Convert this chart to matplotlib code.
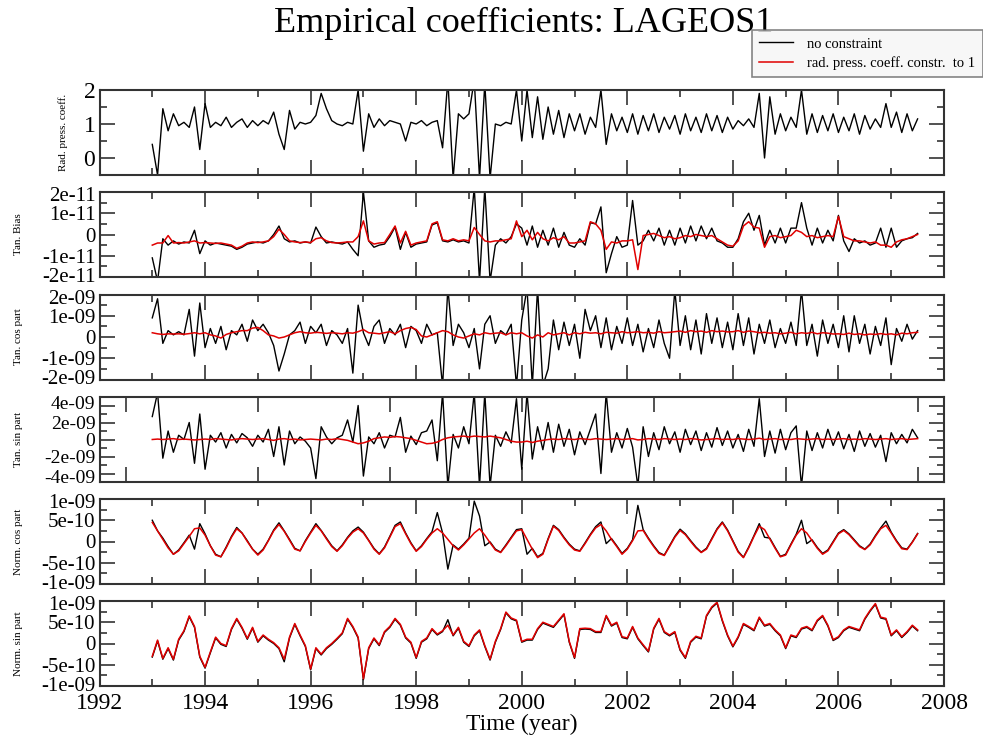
import numpy as np
import matplotlib
matplotlib.use("Agg")
import matplotlib.pyplot as plt
from matplotlib.ticker import MultipleLocator
from matplotlib.transforms import ScaledTranslation

plt.rcParams['font.family'] = ['Liberation Serif', 'DejaVu Serif']

# weekly-ish samples, one every 0.1 year from 1993.0
t_start = 1993.0
t_step = 0.1

# Rad. press. coeff. (no constraint only)
rad_black = [
    0.4, -0.5, 1.45, 0.8, 1.3, 0.95, 1.05, 0.9, 1.5, 0.25,
    1.6, 0.9, 1.05, 0.95, 1.2, 0.9, 1.05, 1.15, 0.9, 1.1,
    0.95, 1.1, 1.0, 1.35, 0.7, 0.25, 1.4, 0.85, 1.05, 1.0,
    1.05, 1.25, 1.9, 1.45, 1.1, 1.0, 0.95, 1.05, 1.0, 2.0,
    0.2, 1.3, 0.9, 1.15, 0.95, 1.1, 1.05, 1.0, 0.5, 1.05,
    1.0, 1.1, 0.95, 1.05, 1.1, 0.3, 2.3, -0.6, 1.3, 1.15,
    1.3, 2.3, -0.6, 2.2, -0.6, 1.0, 0.95, 1.05, 1.0, 2.0,
    0.5, 2.0, 0.6, 1.8, 0.55, 1.5, 0.7, 1.4, 0.6, 1.3,
    0.8, 1.3, 0.7, 1.2, 0.9, 2.0, 0.4, 1.3, 0.8, 1.2,
    0.75, 1.3, 0.7, 1.25, 0.8, 1.3, 0.75, 1.2, 0.85, 1.25,
    0.7, 1.3, 0.8, 1.2, 0.75, 1.3, 0.8, 1.25, 0.75, 1.2,
    0.85, 1.1, 0.95, 1.15, 0.9, 1.9, 0.0, 1.8, 0.7, 1.3,
    0.8, 1.2, 0.9, 2.0, 0.7, 1.3, 0.75, 1.25, 0.8, 1.3,
    0.75, 1.2, 0.8, 1.3, 0.7, 1.25, 0.85, 1.15, 0.9, 1.6,
    0.9, 1.35, 0.75, 1.3, 0.8, 1.15,
]

# Tan. Bias, units of 1e-11
bias_black = [
    -1.1, -2.2, -0.2, -0.5, -0.3, -0.45, -0.35, -0.4, 0.2, -0.9,
    -0.3, -0.5, -0.4, -0.45, -0.5, -0.55, -0.7, -0.6, -0.45, -0.4,
    -0.35, -0.4, -0.3, 0.0, 0.4, -0.2, -0.35, -0.3, -0.4, -0.35,
    -0.4, 0.35, -0.1, -0.4, -0.35, -0.4, -0.45, -0.35, -0.7, -1.0,
    2.0, -0.3, -0.6, -0.5, -0.45, -0.1, 0.35, -0.7, 0.1, -0.6,
    -0.45, -0.4, -0.35, 0.45, 0.55, -0.3, -0.35, -0.25, -0.35, -0.3,
    -0.4, 2.2, -2.2, 2.2, -2.2, -0.5, -0.2, -0.4, -0.1, 0.5,
    0.3, -0.5, 0.4, -0.6, 0.2, -0.5, 0.3, -0.6, 0.1, -0.5,
    -0.6, -0.2, -0.5, 0.55, 0.5, 1.3, -1.8, -0.9, -0.1, -0.6,
    -0.5, 1.6, -0.5, -0.3, 0.2, -0.3, 0.3, -0.5, 0.2, -0.5,
    0.3, -0.4, 0.4, -0.3, 0.4, -0.2, 0.3, -0.3, -0.4, -0.6,
    -0.6, -0.2, 0.6, 1.0, 0.2, 0.9, -0.5, 0.2, -0.4, 0.3,
    -0.4, 0.3, 0.3, 1.5, 0.3, -0.5, 0.3, -0.4, 0.2, -0.3,
    0.9, -0.3, -0.8, -0.2, -0.4, -0.3, -0.5, -0.4, 0.3, -0.6,
    0.3, -0.6, -0.3, -0.2, -0.15, 0.05,
]
bias_red = [
    -0.5, -0.4, -0.4, -0.05, -0.4, -0.38, -0.4, -0.35, -0.3, -0.4,
    -0.38, -0.4, -0.42, -0.4, -0.45, -0.5, -0.65, -0.55, -0.4, -0.35,
    -0.38, -0.35, -0.3, -0.1, 0.25, 0.0, -0.3, -0.35, -0.38, -0.35,
    -0.38, -0.2, -0.15, -0.3, -0.38, -0.4, -0.38, -0.35, -0.35, -0.1,
    0.64, -0.3, -0.45, -0.4, -0.38, 0.0, 0.4, -0.4, 0.15, -0.5,
    -0.4, -0.35, -0.3, 0.5, 0.6, -0.25, -0.3, -0.2, -0.3, -0.25,
    -0.3, 0.33, 0.0, -0.3, -0.35, -0.3, -0.3, -0.25, -0.2, 0.64,
    -0.1, 0.2, -0.25, 0.1, -0.2, -0.3, -0.15, -0.25, -0.1, -0.4,
    -0.4, -0.35, -0.3, 0.6, 0.5, 0.2, -0.7, -0.35, -0.4, -0.3,
    -0.3, -0.25, -1.65, -0.05, 0.0, 0.05, -0.05, -0.15, -0.1, -0.2,
    -0.15, -0.05, -0.1, 0.0, -0.05, -0.1, -0.05, -0.2, -0.35, -0.5,
    -0.55, -0.3, 0.4, 0.6, 0.35, 0.3, -0.6, -0.1, -0.05, -0.15,
    -0.1, -0.05, 0.2, 0.1, -0.1, -0.05, -0.15, -0.1, -0.05, -0.1,
    0.85, -0.1, -0.2, -0.3, -0.3, -0.35, -0.4, -0.35, -0.5, -0.5,
    -0.6, -0.35, -0.25, -0.2, -0.1, 0.0,
]

# Tan. cos part, units of 1e-9
tcos_black = [
    0.9, 1.8, -0.3, 0.3, 0.1, 0.25, 0.1, 1.3, -0.9, 1.6,
    -0.5, 0.4, -0.3, 0.5, -0.6, 0.3, 0.1, 0.6, -0.2, 0.8,
    0.3, 0.6, 0.2, -0.4, -1.6, -0.8, 0.1, 0.3, 0.7, -0.3,
    0.5, 0.2, 0.6, -0.4, 0.3, 0.1, -0.3, 0.4, -1.7, 1.5,
    0.2, -0.4, 0.5, 0.8, -0.3, 0.4, 0.1, 0.6, -0.5, 0.5,
    0.3, -0.3, 0.6, 0.1, 0.2, -2.3, 2.3, -0.4, 0.6, 0.2,
    -0.5, 0.4, -1.5, 0.6, 1.0, -0.3, 0.3, 0.1, 0.6, -2.3,
    0.8, 2.3, -2.3, 2.3, -2.3, -1.5, 0.8, -0.6, 0.7, -0.4,
    0.6, -1.0, 1.3, 0.3, 1.0, -0.5, 0.9, -0.6, 0.5, -0.3,
    0.9, -0.4, 0.6, -0.7, 0.4, -0.5, 0.8, -0.3, -1.0, 2.2,
    -0.4, 1.0, -0.6, 0.8, -0.8, 1.1, -0.3, 0.9, -0.5, 0.7,
    -0.6, 1.1, -0.4, 0.9, -0.8, 0.6, -0.3, 0.8, -0.5, 0.4,
    -0.3, 0.7, -0.4, 2.2, -0.4, 0.6, -0.9, 0.8, -0.3, 0.6,
    -0.5, 1.0, -0.7, 1.0, -0.3, 0.6, -0.8, 0.5, -0.4, 0.9,
    -1.3, 0.4, -0.2, 0.6, -0.1, 0.3,
]
tcos_red = [
    0.2, 0.15, 0.12, 0.15, 0.14, 0.15, 0.13, 0.16, 0.2, 0.15,
    0.2, 0.1, 0.05, -0.05, 0.12, 0.2, 0.25, 0.3, 0.3, 0.42,
    0.45, 0.3, 0.1, 0.05, -0.05, 0.0, 0.1, 0.2, 0.25, 0.2,
    0.18, 0.22, 0.2, 0.17, 0.2, 0.18, 0.15, 0.2, 0.18, 0.25,
    0.35, 0.2, 0.18, 0.15, 0.2, 0.25, 0.15, 0.3, 0.4, 0.45,
    0.35, 0.05, 0.0, 0.1, 0.2, 0.3, 0.25, 0.1, 0.0, -0.05,
    0.05, 0.15, 0.1, 0.2, 0.15, 0.18, 0.2, 0.1, 0.2, 0.15,
    0.2, 0.05, -0.05, 0.1, 0.0, 0.2, 0.1, 0.15, 0.2, 0.1,
    0.2, 0.15, 0.22, 0.18, 0.2, 0.15, 0.22, 0.2, 0.18, 0.25,
    0.2, 0.22, 0.25, 0.2, 0.22, 0.18, 0.25, 0.2, 0.22, 0.25,
    0.28, 0.22, 0.3, 0.25, 0.28, 0.22, 0.3, 0.25, 0.28, 0.24,
    0.25, 0.3, 0.22, 0.28, 0.25, 0.2, 0.22, 0.18, 0.2, 0.15,
    0.18, 0.22, 0.15, 0.2, 0.17, 0.22, 0.15, 0.2, 0.18, 0.14,
    0.15, 0.12, 0.18, 0.12, 0.15, 0.1, 0.14, 0.12, 0.16, 0.12,
    0.15, 0.1, 0.18, 0.15, 0.2, 0.22,
]

# Tan. sin part, units of 1e-9
tsin_black = [
    2.7, 5.5, -2.2, 1.0, -1.5, 0.5, 0.0, 2.0, -2.8, 3.0,
    -3.5, 0.5, -0.3, 0.8, -1.0, 0.6, -0.4, 0.7, 0.2, -0.8,
    0.5, -0.3, 1.2, -2.0, 1.5, -3.0, 1.0, -0.5, 0.3, -0.2,
    -1.0, -4.6, 1.5, 0.3, -0.5, 0.2, 0.5, 2.3, -0.3, 4.0,
    -4.3, 0.3, -0.5, 0.8, -1.0, 0.5, 0.3, 2.6, -1.5, 0.4,
    -0.6, 0.8, 1.0, 2.3, -2.5, 5.5, -5.5, 0.6, -1.0, 1.5,
    -0.5, 5.5, -5.5, 5.5, -5.5, 0.5, -0.8, 0.9, -0.4, 4.8,
    -3.5, 5.5, -2.3, 1.5, -1.2, 2.0, -1.5, 1.8, -0.8, 1.2,
    -1.8, 0.9, -0.6, 1.2, 3.0, -4.0, 5.5, -1.5, 0.8, -1.0,
    1.3, -0.9, -5.5, 1.5, -2.0, 0.8, -1.2, 1.5, -0.5, 0.9,
    -1.5, 1.2, -0.6, 1.0, -1.3, 0.8, -0.9, 1.4, -0.7, 1.0,
    -1.0, 0.6, -1.4, 1.2, -0.8, 4.8, -2.0, 1.0, -1.6, 1.2,
    -1.2, 0.8, 1.6, -5.5, 1.0, -1.3, 0.8, -1.0, 1.2, -0.7,
    0.9, -1.1, 0.6, -1.4, 1.0, -0.8, 0.7, -0.9, 0.5, -2.6,
    0.8, -0.5, 0.6, -0.4, 1.2, 0.2,
]
tsin_red = [
    0.0, 0.05, 0.0, 0.05, 0.1, 0.0, 0.05, 0.0, -0.05, 0.0,
    0.05, 0.0, 0.1, 0.05, 0.0, -0.05, 0.05, 0.1, 0.05, 0.0,
    0.05, 0.1, 0.0, -0.1, 0.05, 0.1, 0.0, 0.05, -0.05, 0.0,
    0.05, 0.0, -0.05, 0.05, 0.0, 0.1, 0.0, -0.1, -0.3, -0.5,
    -0.4, -0.2, 0.1, 0.2, 0.3, 0.25, 0.35, 0.3, 0.2, 0.1,
    -0.1, -0.3, -0.5, -0.45, -0.3, 0.0, 0.2, 0.3, 0.35, 0.4,
    0.3, 0.4, 0.35, 0.3, 0.4, 0.3, 0.2, 0.0, -0.2, -0.3,
    -0.3, -0.2, -0.35, -0.2, -0.1, 0.0, 0.05, 0.0, 0.1, 0.05,
    0.0, 0.1, 0.05, 0.0, 0.1, 0.05, 0.0, 0.05, 0.1, 0.0,
    0.05, 0.1, -0.05, 0.0, 0.1, 0.05, 0.0, 0.1, 0.05, 0.0,
    0.05, 0.0, 0.1, 0.05, -0.05, 0.0, 0.05, 0.1, 0.0, 0.05,
    0.0, 0.1, 0.05, 0.0, 0.05, 0.15, 0.0, 0.05, 0.1, 0.0,
    0.05, 0.0, 0.1, 0.05, 0.0, 0.05, 0.1, 0.0, 0.05, 0.0,
    0.05, 0.1, 0.0, 0.05, 0.0, 0.1, 0.05, 0.0, 0.05, 0.1,
    0.0, 0.05, 0.1, 0.0, 0.05, 0.1,
]

# Norm. cos part, units of 1e-10
ncos_black = [
    5.0, 2.5, 0.8, -1.2, -3.0, -2.0, -0.3, 1.5, -1.8, 4.2,
    1.8, -1.0, -3.0, -3.6, -1.3, 1.2, 3.3, 2.0, 0.2, -1.8,
    -3.0, -1.8, 0.3, 2.7, 4.4, 2.5, 0.5, -1.6, -2.2, 0.2,
    2.2, 4.2, 2.6, 0.8, -1.0, -2.2, -0.8, 1.0, 2.5, 3.4,
    2.2, 0.3, -1.6, -2.9, -1.3, 1.2, 3.8, 4.6, 2.0, -0.3,
    -2.2, -1.0, 0.7, 2.3, 6.8, 2.0, -6.5, -0.8, -1.8, -0.6,
    0.8, 9.5, 6.0, -1.0, -0.1, -1.8, -2.5, -0.8, 1.0, 2.8,
    3.0, -3.0, -1.6, -3.6, -2.8, 0.7, 3.8, 2.8, 1.0, -0.6,
    -1.8, -2.2, -0.3, 1.7, 3.5, 4.6, -0.5, 0.7, -1.0, -2.8,
    -1.6, 0.4, 8.5, 2.8, 0.8, -1.0, -2.6, -3.2, -1.0, 1.2,
    2.9, 1.8, 0.2, -1.3, -2.5, -1.6, 0.7, 3.0, 4.6, 2.7,
    0.2, -2.3, -3.7, -1.3, 1.4, 4.2, 1.0, 0.8, -1.4, -3.5,
    -3.0, -0.6, 1.7, 5.0, -0.5, 0.4, -1.4, -2.8, -2.0, 0.0,
    2.0, 2.8, 1.8, 0.4, -1.0, -1.8, -0.6, 1.4, 3.2, 4.8,
    2.2, 0.2, -1.5, -1.8, -0.1, 1.9,
]
ncos_red = [
    4.5, 2.5, 0.5, -1.5, -3.0, -2.2, -0.5, 1.2, 3.0, 3.2,
    1.5, -1.0, -3.2, -3.6, -1.5, 1.0, 3.0, 2.0, 0.0, -1.8,
    -3.2, -2.0, 0.2, 2.5, 4.0, 2.4, 0.3, -1.8, -2.2, 0.0,
    2.0, 3.8, 2.5, 0.6, -1.2, -2.3, -1.0, 0.8, 2.2, 3.0,
    2.0, 0.2, -1.8, -3.0, -1.5, 1.0, 3.5, 4.2, 1.8, -0.5,
    -2.3, -1.2, 0.5, 2.0, 3.0, 2.0, 0.5, -1.0, -2.0, -0.8,
    0.6, 2.0, 3.0, 1.5, -0.3, -2.0, -2.6, -1.0, 0.8, 2.5,
    2.8, 0.5, -1.8, -3.8, -3.0, 0.5, 3.6, 2.6, 0.8, -0.8,
    -2.0, -2.3, -0.5, 1.5, 3.2, 4.0, 2.5, 0.5, -1.2, -3.0,
    -1.8, 0.2, 2.5, 2.6, 0.6, -1.2, -2.8, -3.3, -1.2, 1.0,
    2.6, 1.6, 0.0, -1.5, -2.6, -1.8, 0.5, 2.8, 4.4, 2.5,
    0.0, -2.5, -3.8, -1.5, 1.2, 3.6, 2.8, 0.6, -1.6, -3.6,
    -3.2, -0.8, 1.5, 3.0, 2.0, 0.2, -1.6, -3.0, -2.2, -0.2,
    1.8, 2.6, 1.6, 0.2, -1.2, -1.9, -0.8, 1.2, 3.0, 3.8,
    2.0, 0.0, -1.7, -1.9, -0.2, 1.8,
]

# Norm. sin part, units of 1e-10
nsin_black = [
    -3.2, 0.6, -3.7, -1.2, -3.9, 0.8, 2.8, 6.3, 3.8, -3.2,
    -5.8, -2.2, 1.3, -0.2, -0.7, 3.3, 5.7, 3.6, 1.0, 3.6,
    0.3, 1.8, 0.8, 0.0, -1.2, -4.3, 1.3, 4.5, 1.8, -0.7,
    -6.2, -1.2, -2.7, -1.2, -0.2, 1.0, 2.3, 5.7, 3.8, 1.3,
    -8.5, -1.2, 1.1, -0.5, 2.6, 3.8, 5.7, 4.3, 1.3, 0.1,
    -3.5, 0.3, 1.1, 3.3, 2.0, 2.8, 5.6, 1.8, 3.6, 0.3,
    -0.7, 1.8, 3.0, -0.7, -3.9, 0.3, 3.3, 7.2, 5.8, 5.3,
    0.3, 0.8, 0.8, 3.3, 4.8, 4.3, 3.8, 5.3, 6.8, 0.3,
    -3.5, 3.3, 3.4, 3.3, 2.6, 2.6, 6.4, 4.1, 4.8, 1.4,
    1.1, 3.8, 1.1, -0.5, -2.0, 3.4, 5.7, 2.6, 1.8, 2.6,
    -1.6, -3.5, 0.3, 1.5, 1.1, 6.4, 8.4, 9.5, 5.3, 1.8,
    -0.8, 1.4, 4.5, 3.8, 3.0, 6.0, 4.1, 4.5, 3.0, 1.8,
    -1.2, 1.8, 1.4, 3.4, 3.8, 3.0, 5.3, 6.4, 4.1, 0.7,
    1.4, 3.0, 3.8, 3.4, 3.0, 5.7, 7.6, 9.2, 6.0, 5.7,
    1.8, 3.0, 1.4, 2.6, 4.1, 3.0,
]
nsin_red = [
    -3.0, 0.8, -3.5, -1.0, -3.7, 1.0, 3.0, 6.5, 4.0, -3.0,
    -5.6, -2.0, 1.5, 0.0, -0.5, 3.5, 5.9, 3.8, 1.2, 3.8,
    0.5, 2.0, 1.0, 0.2, -1.0, -3.7, 1.5, 4.7, 2.0, -0.5,
    -6.0, -1.0, -2.5, -1.0, 0.0, 1.2, 2.5, 5.9, 4.0, 1.5,
    -8.3, -1.0, 1.3, -0.3, 2.8, 4.0, 5.9, 4.5, 1.5, 0.3,
    -3.3, 0.5, 1.3, 3.5, 2.2, 3.0, 4.3, 2.0, 3.8, 0.5,
    -0.5, 2.0, 3.2, -0.5, -3.7, 0.5, 3.5, 7.4, 6.0, 5.5,
    0.5, 1.0, 1.0, 3.5, 5.0, 4.5, 4.0, 5.5, 7.0, 0.5,
    -3.3, 3.5, 3.6, 3.5, 2.8, 2.8, 6.6, 4.3, 5.0, 1.6,
    1.3, 4.0, 1.3, -0.3, -1.8, 3.6, 5.9, 2.8, 2.0, 2.8,
    -1.4, -3.3, 0.5, 1.7, 1.3, 6.6, 8.6, 9.7, 5.5, 2.0,
    -0.6, 1.6, 4.7, 4.0, 3.2, 6.2, 4.3, 4.7, 3.2, 2.0,
    -1.0, 2.0, 1.6, 3.6, 4.0, 3.2, 5.5, 6.6, 4.3, 0.9,
    1.6, 3.2, 4.0, 3.6, 3.2, 5.9, 7.8, 9.4, 6.2, 5.9,
    2.0, 3.2, 1.6, 2.8, 4.3, 3.2,
]

ylabels = ["Rad. press. coeff.", "Tan. Bias", "Tan. cos part",
           "Tan. sin part", "Norm. cos part", "Norm. sin part"]
series_black = [rad_black, bias_black, tcos_black, tsin_black, ncos_black, nsin_black]
series_red = [None, bias_red, tcos_red, tsin_red, ncos_red, nsin_red]
units = [1.0, 1e-11, 1e-9, 1e-9, 1e-10, 1e-10]

yticks = [
    [0, 1, 2],
    [-2e-11, -1e-11, 0, 1e-11, 2e-11],
    [-2e-9, -1e-9, 0, 1e-9, 2e-9],
    [-4e-9, -2e-9, 0, 2e-9, 4e-9],
    [-1e-9, -5e-10, 0, 5e-10, 1e-9],
    [-1e-9, -5e-10, 0, 5e-10, 1e-9],
]
ytick_labels = [
    ["0", "1", "2"],
    ["-2e-11", "-1e-11", "0", "1e-11", "2e-11"],
    ["-2e-09", "-1e-09", "0", "1e-09", "2e-09"],
    ["-4e-09", "-2e-09", "0", "2e-09", "4e-09"],
    ["-1e-09", "-5e-10", "0", "5e-10", "1e-09"],
    ["-1e-09", "-5e-10", "0", "5e-10", "1e-09"],
]
ylims = [(-0.5, 2), (-2e-11, 2e-11), (-2e-9, 2e-9), (-5e-9, 5e-9), (-1e-9, 1e-9), (-1e-9, 1e-9)]
yminor = [0.5, 5e-12, 5e-10, 1e-9, 2.5e-10, 2.5e-10]
ytick_size = [17, 15, 15, 14, 15, 15]
ylabel_x_px = [68, 23, 23, 23, 23, 23]
# vertical nudge (points) of the outermost tick labels, + means outward
edge_nudge = [0, -1.5, -1.5, 2.0, -1.5, -1.5]

W, H = 983, 745
fig = plt.figure(figsize=(W / 100, H / 100), dpi=100)
left_px, right_px = 99.5, 944
tops_px = [90, 192, 294.5, 397, 499, 601]
h_px = 85
ax_w = right_px - left_px

lines = []
for i in range(6):
    ax = fig.add_axes([left_px / W, 1 - (tops_px[i] + h_px) / H,
                       ax_w / W, h_px / H])
    blk = np.array(series_black[i]) * units[i]
    t = t_start + t_step * np.arange(len(blk))
    lb, = ax.plot(t, blk, color='black', lw=1.0)
    if series_red[i] is not None:
        red = np.array(series_red[i]) * units[i]
        tr = t_start + t_step * np.arange(len(red))
        lr, = ax.plot(tr, red, color='#e00000', lw=1.1)
        if not lines:
            lines = [lb, lr]
    ax.set_xlim(1992, 2008)
    ax.set_ylim(*ylims[i])
    ax.set_yticks(yticks[i])
    ax.set_yticklabels(ytick_labels[i], fontsize=ytick_size[i])
    ax.yaxis.set_minor_locator(MultipleLocator(yminor[i]))
    if i == 3:
        # this panel has its own odd x ticking
        ax.set_xticks([1992.5, 1995, 1997.5, 2000, 2002.5, 2005, 2007.5])
    else:
        ax.xaxis.set_major_locator(MultipleLocator(2))
        ax.xaxis.set_minor_locator(MultipleLocator(1))
    ax.tick_params(which='both', direction='in', top=True, right=True,
                   width=1.2, color='#333333')
    ax.tick_params(which='major', length=11, pad=3)
    ax.tick_params(which='minor', length=5)
    if i < 5:
        ax.tick_params(labelbottom=False)
    else:
        ax.tick_params(axis='x', labelsize=17, pad=5)
        ax.set_xlabel("Time (year)", fontsize=17, labelpad=0)
    for s in ax.spines.values():
        s.set_linewidth(1.5)
        s.set_color('#333333')
    ax.set_ylabel(ylabels[i], fontsize=8)
    ax.yaxis.set_label_coords((ylabel_x_px[i] - left_px) / ax_w, 0.5)

    # shift the outermost tick labels a little so they do not collide
    if edge_nudge[i]:
        labs = ax.get_yticklabels()
        d = edge_nudge[i] / 72
        labs[0].set_transform(labs[0].get_transform() +
                              ScaledTranslation(0, -d, fig.dpi_scale_trans))
        labs[-1].set_transform(labs[-1].get_transform() +
                               ScaledTranslation(0, d, fig.dpi_scale_trans))

fig.text(524 / W, 1 - 23 / H, "Empirical coefficients: LAGEOS1",
         ha='center', va='center', fontsize=26)

leg = fig.legend(lines, ["no constraint", "rad. press. coeff. constr.  to 1"],
                 loc='upper left', bbox_to_anchor=(752 / W, 1 - 30 / H),
                 fontsize=10.5, frameon=True, fancybox=False, shadow=False,
                 handlelength=2.3, borderpad=0.5, labelspacing=0.4,
                 handletextpad=1.0, borderaxespad=0)
leg.get_frame().set_edgecolor('#666666')
leg.get_frame().set_linewidth(1.2)
leg.get_frame().set_facecolor('#f6f6f6')

fig.savefig("out.png", dpi=100)
